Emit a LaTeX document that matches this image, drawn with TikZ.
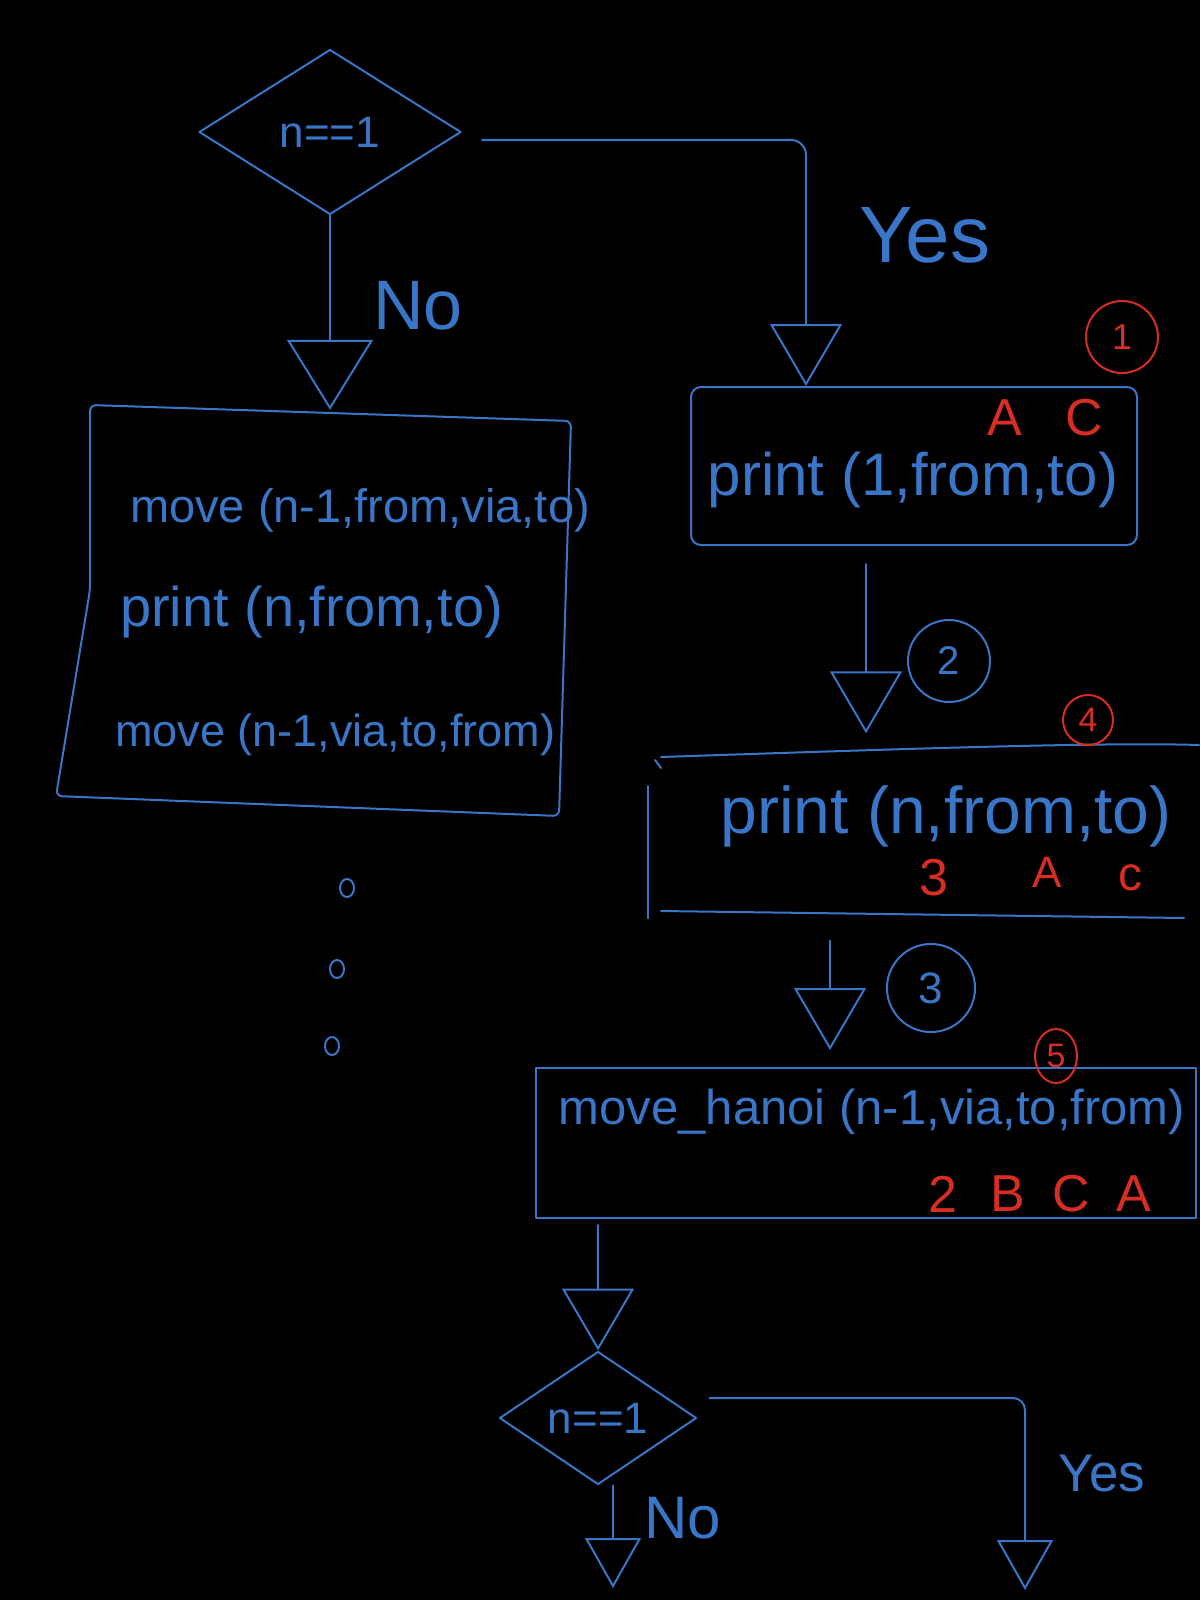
\documentclass[tikz,border=0pt]{standalone}
\usepackage{fontspec}
\setmainfont{Liberation Sans}
\usetikzlibrary{arrows.meta,shapes.geometric}
\definecolor{ink}{RGB}{58,118,200}
\definecolor{redink}{RGB}{215,45,35}
\newcommand\myfs[1]{\fontsize{#1}{#1}\selectfont}
\begin{document}
\begin{tikzpicture}[x=1pt,y=-1pt,
  pen/.style={draw=ink,line width=2pt,line cap=round,line join=round},
  txt/.style={text=ink,inner sep=0pt,font=\myfs{#1}},
  rtxt/.style={text=redink,inner sep=0pt,font=\myfs{#1}},
  bluecirc/.style={circle,pen,text=ink,inner sep=0pt},
  redcirc/.style={circle,draw=redink,line width=2pt,text=redink,inner sep=0pt},
  tipA/.style={-{Triangle[open,length=70pt,width=86pt]}},
  tipB/.style={-{Triangle[open,length=62pt,width=72pt]}},
  tipC/.style={-{Triangle[open,length=50pt,width=56pt]}}]
\fill[black] (0,0) rectangle (1200,1600);
\useasboundingbox (0,0) rectangle (1200,1600);

% top decision
\node[diamond,pen,text=ink,minimum width=262pt,minimum height=165pt,inner sep=0pt,font=\myfs{44}] (d1) at (330,132) {n==1};

% left box
\node[rectangle,minimum width=500pt,minimum height=400pt,inner sep=0pt] (b1) at (313,610) {};
\draw[pen,rounded corners=6pt] (90,405) -- (571,421) -- (559,816) -- (56,796) -- (90,590) -- cycle;
\node[txt=47,anchor=west] (m1) at (130,510) {move (n-1,from,via,to)};
\node[txt=56,anchor=west] (m2) at (120,612) {print (n,from,to)};
\node[txt=45,anchor=west] (m3) at (115,735) {move (n-1,via,to,from)};

% dots
\draw[pen] (347,888) ellipse [x radius=7pt, y radius=9pt];
\draw[pen] (337,969) ellipse [x radius=7pt, y radius=9pt];
\draw[pen] (332,1046) ellipse [x radius=7pt, y radius=9pt];

% No connector
\draw[pen,tipA] (d1.south) -- (d1.south |- b1.north);
\node[txt=70] (no1) at (418,306) {No};

% right box 1
\node[rectangle,pen,rounded corners=10pt,minimum width=446pt,minimum height=158pt,inner sep=0pt] (r1) at (914,466) {};
\node[txt=60] (p1) at (913,480) {print (1,from,to)};
\node[rtxt=52] (ra1) at (1005,418) {A};
\node[rtxt=52] (rc1) at (1084,418) {C};
\node[redcirc,minimum size=72pt,font=\myfs{36}] (c1) at (1122,337) {1};

% Yes connector
\draw[pen,tipB,rounded corners=15pt] ([xshift=20pt,yshift=-8pt]d1.east) -| ([xshift=-108pt]r1.north);
\node[txt=80] (yes1) at (925,235) {Yes};

% right box 2 (open on the right)
\node[rectangle,minimum width=552pt,minimum height=165pt,inner sep=0pt] (r2) at (924,836) {};
\draw[pen] (661,757) .. controls (900,749) and (1100,742) .. (1199,745);
\draw[pen] (655,760) -- (661,768);
\draw[pen] (648,786) -- (648,918);
\draw[pen] (661,911) -- (1184,918);
\node[txt=66] (p2) at (946,816) {print (n,from,to)};
\node[rtxt=52] (r3a) at (934,878) {3};
\node[rtxt=44] (raa) at (1047,872) {A};
\node[rtxt=48] (rcc) at (1130,878) {c};

\draw[pen,tipB,shorten <=18pt,shorten >=20pt] ([xshift=-48pt]r1.south) -- ([xshift=-58pt]r2.north);
\node[bluecirc,minimum size=82pt,font=\myfs{40}] (c2) at (949,661) {2};
\node[redcirc,minimum size=50pt,font=\myfs{34}] (c4) at (1088,720) {4};

% right box 3
\node[rectangle,pen,minimum width=660pt,minimum height=150pt,inner sep=0pt] (r3) at (866,1143) {};
\node[txt=49] (p3) at (872,1112) {move\_hanoi (n-1,via,to,from)};
\node[rtxt=52] (r2n) at (943,1194) {2};
\node[rtxt=52] (r2b) at (1008,1194) {B};
\node[rtxt=52] (r2c) at (1071,1194) {C};
\node[rtxt=52] (r2a) at (1134,1194) {A};

\draw[pen,tipB,shorten <=22pt,shorten >=17pt] ([xshift=-94pt]r2.south) -- ([xshift=-36pt]r3.north);
\node[bluecirc,minimum size=88pt,font=\myfs{44}] (c3) at (931,988) {3};
\node[ellipse,draw=redink,line width=2pt,text=redink,inner sep=0pt,minimum width=42pt,minimum height=54pt,font=\myfs{34}] (c5) at (1056,1056) {5};

% bottom decision
\node[diamond,pen,text=ink,minimum width=197pt,minimum height=133pt,inner sep=0pt,font=\myfs{44}] (d2) at (598,1418) {n==1};
\draw[pen,tipB,shorten <=6pt] (d2.north |- r3.south) -- (d2.north);

\coordinate (e1) at (613,1588);
\coordinate (e2) at (1025,1590);
\draw[pen,tipC] ([xshift=15pt]d2.south) -- (e1);
\node[txt=60] (no2) at (683,1518) {No};
\draw[pen,tipC,rounded corners=12pt] ([xshift=12pt,yshift=20pt]d2.east) -| (e2);
\node[txt=53] (yes2) at (1102,1474) {Yes};
\end{tikzpicture}
\end{document}
